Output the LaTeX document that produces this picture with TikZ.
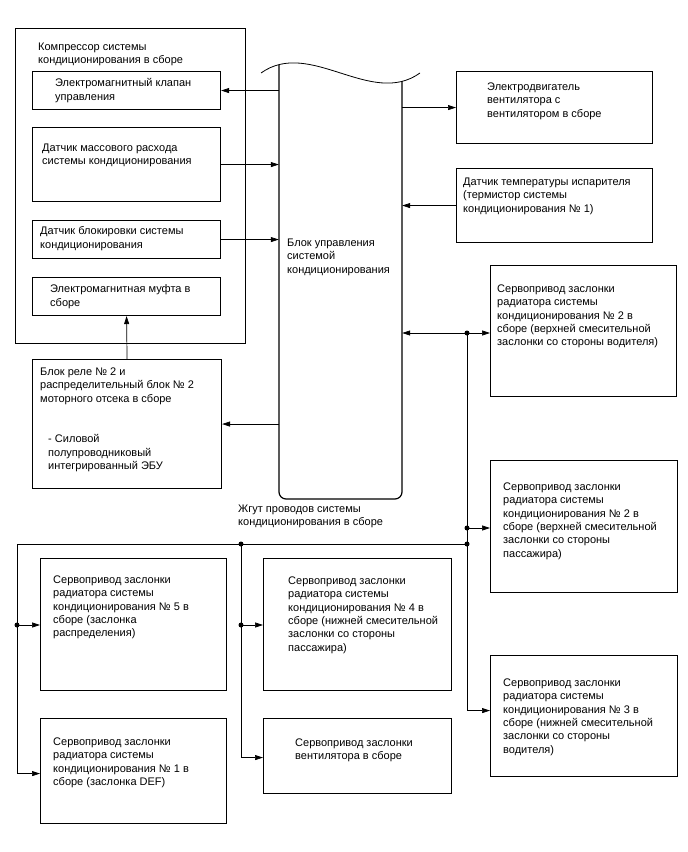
\documentclass[tikz,border=0pt]{standalone}
\usepackage{fontspec}
\setmainfont{Liberation Sans}
\usetikzlibrary{arrows.meta}
\begin{document}
\begin{tikzpicture}[x=1pt,y=-1pt,
  box/.style={draw, line width=1.1pt, inner sep=0, anchor=north west},
  txt/.style={anchor=north west, inner sep=0, align=left, font=\fontsize{11}{13.4}\selectfont},
  conn/.style={line width=0.7pt},
  tip/.tip={Triangle[length=8pt,width=5pt]},
  arr/.style={conn, -tip},
  dot/.style={circle, fill, inner sep=0, minimum size=5pt}]
\useasboundingbox[fill=white] (0,0) rectangle (688,852);

% compressor group
\node[box, minimum width=230, minimum height=315] (comp) at (15,28) {};
\node[txt] (compt) at (38,42.5) {Компрессор системы\\кондиционирования в сборе};
\node[box, minimum width=188, minimum height=38] (b1) at (32,71) {};
\node[txt] (b1t) at (55,78.5) {Электромагнитный клапан\\управления};
\node[box, minimum width=188, minimum height=74] (b2) at (32,127) {};
\node[txt] (b2t) at (42,143.5) {Датчик массового расхода\\системы кондиционирования};
\node[box, minimum width=188, minimum height=38] (b3) at (32,220) {};
\node[txt] (b3t) at (40,226.5) {Датчик блокировки системы\\кондиционирования};
\node[box, minimum width=188, minimum height=38] (b4) at (32,277) {};
\node[txt] (b4t) at (50,284.5) {Электромагнитная муфта в\\сборе};

% relay
\node[box, minimum width=189, minimum height=129] (relay) at (32,359) {};
\node[txt] (relt) at (40,367.5) {Блок реле № 2 и\\распределительный блок № 2\\моторного отсека в сборе};
\node[txt] (relt2) at (48,434.5) {- Силовой\\полупроводниковый\\интегрированный ЭБУ};

% central control block
\node[inner sep=0, minimum width=123, minimum height=434] (ctrl) at (340.5,282) {};
\draw[line width=1.2pt, rounded corners=7pt] (279,65) -- (279,499) -- (402,499) -- (402,81);
\draw[line width=0.8pt] (261,73) .. controls (310,38) and (371,108) .. (420,73);
\node[txt] (ctrlt) at (287,238.5) {Блок управления\\системой\\кондиционирования};
\node[txt] (harn) at (238,504.5) {Жгут проводов системы\\кондиционирования в сборе};

% right side
\node[box, minimum width=196, minimum height=72] (motor) at (456,71) {};
\node[txt] (motort) at (487,82.5) {Электродвигатель\\вентилятора с\\вентилятором в сборе};
\node[box, minimum width=196, minimum height=74] (temp) at (456,168) {};
\node[txt] (tempt) at (463,177.5) {Датчик температуры испарителя\\(термистор системы\\кондиционирования № 1)};
\node[box, minimum width=186, minimum height=131] (s2d) at (490,265) {};
\node[txt] (s2dt) at (497,284.5) {Сервопривод заслонки\\радиатора системы\\кондиционирования № 2 в\\сборе (верхней смесительной\\заслонки со стороны водителя)};
\node[box, minimum width=187, minimum height=132] (s2p) at (490,460) {};
\node[txt] (s2pt) at (503,482.5) {Сервопривод заслонки\\радиатора системы\\кондиционирования № 2 в\\сборе (верхней смесительной\\заслонки со стороны\\пассажира)};
\node[box, minimum width=187, minimum height=121] (s3) at (490,655) {};
\node[txt] (s3t) at (503,678.5) {Сервопривод заслонки\\радиатора системы\\кондиционирования № 3 в\\сборе (нижней смесительной\\заслонки со стороны\\водителя)};

% bottom
\node[box, minimum width=186, minimum height=132] (s5) at (40,558) {};
\node[txt] (s5t) at (53,575.5) {Сервопривод заслонки\\радиатора системы\\кондиционирования № 5 в\\сборе (заслонка\\распределения)};
\node[box, minimum width=186, minimum height=105] (s1) at (40,718) {};
\node[txt] (s1t) at (53,737.5) {Сервопривод заслонки\\радиатора системы\\кондиционирования № 1 в\\сборе (заслонка DEF)};
\node[box, minimum width=188, minimum height=132] (s4) at (263,558) {};
\node[txt] (s4t) at (288,576.5) {Сервопривод заслонки\\радиатора системы\\кондиционирования № 4 в\\сборе (нижней смесительной\\заслонки со стороны\\пассажира)};
\node[box, minimum width=188, minimum height=75] (vent) at (263,718) {};
\node[txt] (ventt) at (295,738.5) {Сервопривод заслонки\\вентилятора в сборе};

% connectors to control block
\draw[arr] (b1.east -| ctrl.west) -- (b1.east);
\draw[arr] (b2.east) -- (b2.east -| ctrl.west);
\draw[arr] (b3.east) -- (b3.east -| ctrl.west);
\draw[arr] (relay.north) -- (b4.south);
\draw[arr] (relay.east -| ctrl.west) -- (relay.east);
\draw[arr] (motor.west -| ctrl.east) -- (motor.west);
\draw[arr] (temp.west) -- (temp.west -| ctrl.east);

% bus
\coordinate (j1) at (467,333);
\coordinate (j2) at (467,528);
\coordinate (j3) at (467,544);
\coordinate (j6) at (241,544);
\coordinate (j7) at (17,544);
\coordinate (j8) at (17,625);
\coordinate (j9) at (241,625);
\draw[conn, tip-tip] (ctrl.east |- j1) -- (s2d.west |- j1);
\draw[arr] (j1) |- ([yshift=5.5pt]s3.west);
\draw[arr] (j2) -- (s2p.west |- j2);
\draw[conn] (j3) -- (j7);
\draw[arr] (j7) |- ([yshift=-2.5pt]s1.west);
\draw[arr] (j8) -- (s5.west |- j8);
\draw[arr] (j6) |- ([yshift=-1.5pt]vent.west);
\draw[arr] (j9) -- (s4.west |- j9);
\foreach \j in {j1,j2,j3,j6,j8,j9} \node[dot] at (\j) {};
\end{tikzpicture}
\end{document}
